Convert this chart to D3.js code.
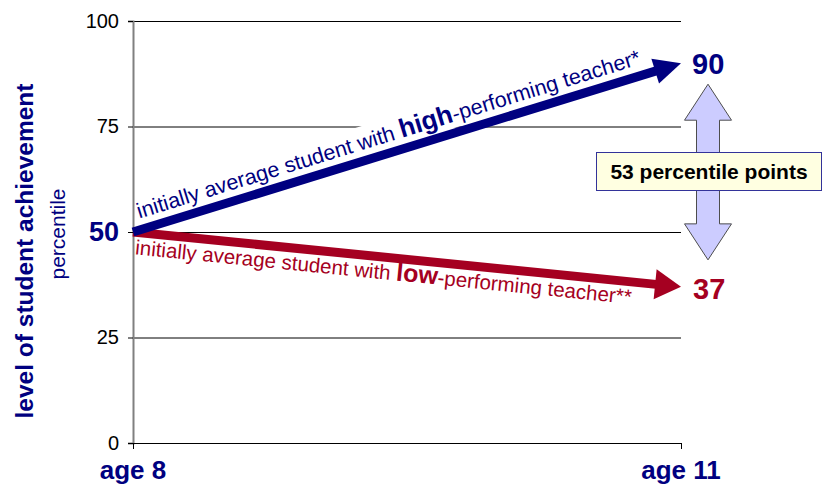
<!DOCTYPE html>
<html lang="en">
<head>
    <meta charset="UTF-8">
    <title>Student achievement by teacher performance</title>
    <script src="https://d3js.org/d3.v7.min.js"></script>
    <style>
        body { margin: 0; background: #fff; }
        svg { display: block; font-family: "Liberation Sans", Arial, sans-serif; }
    </style>
</head>
<body>
<script>
    // data
    var ages = ["age 8", "age 11"];
    var highSeries = [50, 90];
    var lowSeries = [50, 37];
    var yTicks = [0, 25, 50, 75, 100];
    var gridTicks = [25, 50, 75, 100];

    var w = 830;
    var h = 485;
    var navy = "#000080";
    var red = "#a50021";

    var x = d3.scalePoint()
        .domain(ages)
        .range([133, 681]);

    var y = d3.scaleLinear()
        .domain([0, 100])
        .range([443, 21]);

    var svg = d3.select("body")
        .append("svg")
        .attr("width", w)
        .attr("height", h);

    // gridlines
    svg.append("g")
        .attr("transform", "translate(133,0)")
        .call(d3.axisLeft(y).tickValues(gridTicks).tickSize(-548).tickFormat(""))
        .call(function(g){
            g.select(".domain").remove();
            g.selectAll("line").attr("stroke", "#000").attr("stroke-width", 1);
        });

    // white box behind the upper label (hides part of the 75 gridline)
    var x0 = x(ages[0]), x1 = x(ages[1]);
    var hiAngle = Math.atan2(y(highSeries[1]) - y(highSeries[0]), x1 - x0) * 180 / Math.PI;
    var loAngle = Math.atan2(y(lowSeries[1]) - y(lowSeries[0]), x1 - x0) * 180 / Math.PI;

    var hiLabel = svg.append("g")
        .attr("transform", "translate(" + x0 + "," + y(highSeries[0]) + ") rotate(" + hiAngle + ")");
    var hiBg = hiLabel.append("rect").attr("fill", "#fff");

    // y axis
    svg.append("g")
        .attr("transform", "translate(133,0)")
        .call(d3.axisLeft(y).tickValues(yTicks).tickSize(5).tickPadding(9))
        .call(function(g){
            g.select(".domain").attr("stroke", "#808080").attr("stroke-width", 2);
            g.selectAll(".tick line").attr("stroke", "#000");
            g.selectAll(".tick text")
                .attr("fill", "#000")
                .style("font-size", "20px")
                .style("font-family", "'Liberation Sans', Arial, sans-serif");
            g.selectAll(".tick text")
                .filter(function(d){ return d === highSeries[0]; })
                .attr("fill", navy)
                .style("font-weight", "bold")
                .style("font-size", "27px");
        });

    // x axis
    svg.append("g")
        .attr("transform", "translate(0," + y(0) + ")")
        .call(d3.axisBottom(x).tickSize(6).tickSizeOuter(0).tickFormat(""))
        .call(function(g){
            g.select(".domain").attr("stroke", "#000").attr("stroke-width", 1);
            g.selectAll(".tick line").attr("stroke", "#000");
        });

    svg.selectAll(".age")
        .data(ages)
        .enter()
        .append("text")
        .attr("class", "age")
        .attr("x", function(d){ return x(d); })
        .attr("y", 479)
        .attr("text-anchor", "middle")
        .attr("fill", navy)
        .style("font-weight", "bold")
        .style("font-size", "26px")
        .text(function(d){ return d; });

    // arrows
    function arrow(p0, p1, color, width, headLen, headHalf){
        var dx = p1[0] - p0[0], dy = p1[1] - p0[1];
        var len = Math.sqrt(dx * dx + dy * dy);
        var ux = dx / len, uy = dy / len;
        var bx = p1[0] - ux * headLen, by = p1[1] - uy * headLen;
        svg.append("line")
            .attr("x1", p0[0]).attr("y1", p0[1])
            .attr("x2", bx + ux).attr("y2", by + uy)
            .attr("stroke", color)
            .attr("stroke-width", width);
        svg.append("path")
            .attr("d", "M" + p1[0] + "," + p1[1] +
                "L" + (bx - uy * headHalf) + "," + (by + ux * headHalf) +
                "L" + (bx + uy * headHalf) + "," + (by - ux * headHalf) + "Z")
            .attr("fill", color);
    }

    arrow([x0, y(lowSeries[0])], [x1, y(lowSeries[1])], red, 9, 26, 15);
    arrow([x0, y(highSeries[0])], [x1, y(highSeries[1])], navy, 9, 27, 13);

    // line labels
    var hiText = hiLabel.append("text")
        .attr("x", 10)
        .attr("y", -11)
        .attr("fill", navy)
        .style("font-size", "21.5px");
    hiText.append("tspan").text("initially average student with ");
    hiText.append("tspan").style("font-weight", "bold").style("font-size", "26px").text("high");
    hiText.append("tspan").text("-performing teacher*");
    hiBg.attr("x", 0).attr("y", -34).attr("width", hiText.node().getComputedTextLength() + 14).attr("height", 29);

    var loText = svg.append("g")
        .attr("transform", "translate(" + x0 + "," + y(lowSeries[0]) + ") rotate(" + loAngle + ")")
        .append("text")
        .attr("x", 4)
        .attr("y", 22)
        .attr("fill", red)
        .style("font-size", "20.5px");
    loText.append("tspan").text("initially average student with ");
    loText.append("tspan").style("font-weight", "bold").style("font-size", "25px").text("low");
    loText.append("tspan").text("-performing teacher**");

    // end values
    svg.append("text")
        .attr("x", 692).attr("y", y(highSeries[1]))
        .attr("dy", "0.36em")
        .attr("fill", navy)
        .style("font-weight", "bold").style("font-size", "29px")
        .text(highSeries[1]);
    svg.append("text")
        .attr("x", 693).attr("y", y(lowSeries[1]) + 2)
        .attr("dy", "0.36em")
        .attr("fill", red)
        .style("font-weight", "bold").style("font-size", "29px")
        .text(lowSeries[1]);

    // y titles
    svg.append("text")
        .attr("transform", "translate(33,251) rotate(-90)")
        .attr("text-anchor", "middle")
        .attr("fill", navy)
        .style("font-weight", "bold")
        .style("font-size", "24.5px")
        .text("level of student achievement");
    svg.append("text")
        .attr("transform", "translate(65,234) rotate(-90)")
        .attr("text-anchor", "middle")
        .attr("fill", navy)
        .style("font-size", "21px")
        .text("percentile");

    // gap double arrow
    var cx = 708;
    var gapTop = y(highSeries[1]) + 21;
    var gapBot = y(lowSeries[1]) - 27;
    var shaft = 11.5, head = 23.5, hl = 36;
    svg.append("path")
        .attr("d", "M" + cx + "," + gapTop +
            "L" + (cx + head) + "," + (gapTop + hl) +
            "L" + (cx + shaft) + "," + (gapTop + hl) +
            "L" + (cx + shaft) + "," + (gapBot - hl) +
            "L" + (cx + head) + "," + (gapBot - hl) +
            "L" + cx + "," + gapBot +
            "L" + (cx - head) + "," + (gapBot - hl) +
            "L" + (cx - shaft) + "," + (gapBot - hl) +
            "L" + (cx - shaft) + "," + (gapTop + hl) +
            "L" + (cx - head) + "," + (gapTop + hl) + "Z")
        .attr("fill", "#ccccff")
        .attr("stroke", "#4d4d4d")
        .attr("stroke-width", 1);

    svg.append("rect")
        .attr("x", 596.5).attr("y", 152.5)
        .attr("width", 225).attr("height", 38)
        .attr("fill", "#ffffe1")
        .attr("stroke", "#333399")
        .attr("stroke-width", 1);
    svg.append("text")
        .attr("x", 709).attr("y", 171.5)
        .attr("dy", "0.36em")
        .attr("text-anchor", "middle")
        .attr("fill", "#000")
        .style("font-weight", "bold")
        .style("font-size", "21px")
        .text((highSeries[1] - lowSeries[1]) + " percentile points");
</script>
</body>
</html>
